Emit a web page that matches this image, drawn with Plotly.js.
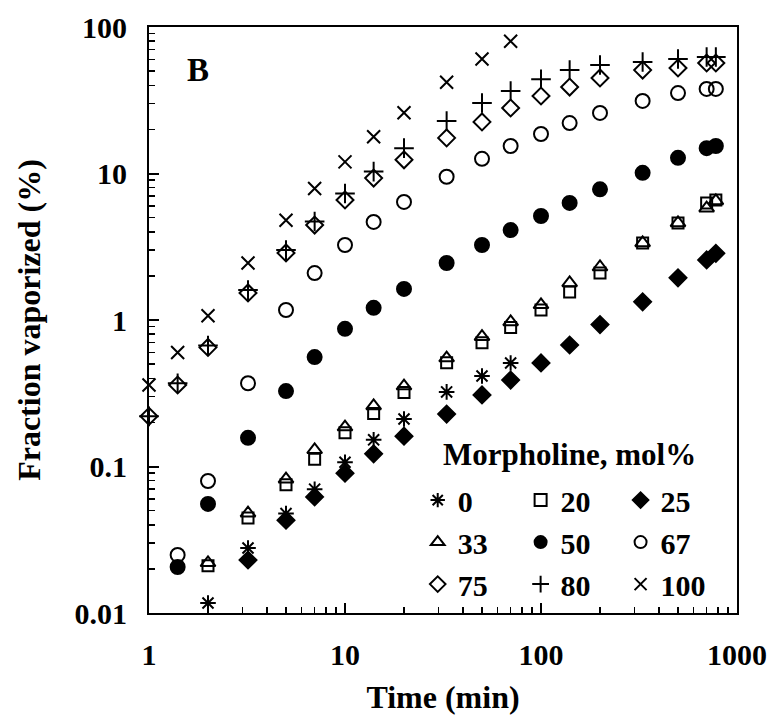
<!DOCTYPE html>
<html>
<head>
<meta charset="utf-8">
<script src="https://cdn.plot.ly/plotly-3.0.1.min.js"></script>
<style>html,body{margin:0;padding:0;background:#fff;}#chart{width:776px;height:715px;}</style>
</head>
<body>
<div id="chart"></div>
<script>
// Time (min)
const time = [1, 1.4, 2, 3.2, 5, 7, 10, 14, 20, 33, 50, 70, 100, 140, 200, 330, 500, 700, 780];
// Fraction vaporized (%) per morpholine mol%
const m0   = [null, null, 0.0117, 0.0278, 0.0477, 0.070, 0.107, 0.152, 0.211, 0.323, 0.415, 0.509, null, null, null, null, null, null, null];
const m20  = [null, null, 0.021, 0.0445, 0.075, 0.112, 0.17, 0.23, 0.32, 0.51, 0.70, 0.89, 1.17, 1.55, 2.09, 3.36, 4.6, 6.3, 6.6];
const m25  = [null, null, null, 0.023, 0.043, 0.062, 0.090, 0.122, 0.161, 0.228, 0.308, 0.389, 0.509, 0.675, 0.93, 1.33, 1.94, 2.57, 2.85];
const m33  = [null, null, 0.022, 0.048, 0.082, 0.13, 0.186, 0.259, 0.354, 0.55, 0.77, 0.97, 1.27, 1.79, 2.3, 3.36, 4.6, 5.8, 6.5];
const m50  = [null, 0.0206, 0.0555, 0.157, 0.327, 0.558, 0.87, 1.21, 1.63, 2.45, 3.25, 4.11, 5.13, 6.3, 7.8, 10.1, 12.8, 14.9, 15.4];
const m67  = [null, 0.0249, 0.0796, 0.37, 1.17, 2.09, 3.25, 4.67, 6.4, 9.5, 12.6, 15.4, 18.6, 22.1, 25.9, 31.3, 35.4, 37.8, 37.8];
const m75  = [0.22, 0.36, 0.65, 1.53, 2.87, 4.45, 6.6, 9.3, 12.4, 17.5, 22.5, 28, 33.8, 38.9, 44.9, 50.8, 52.5, 56.8, 56.8];
const m80  = [0.22, 0.37, 0.67, 1.6, 3.0, 4.7, 7.3, 10.3, 14.9, 22.8, 30.3, 36.6, 44, 50.8, 55, 57.7, 60.5, 62.4, 62.4];
const m100 = [0.36, 0.6, 1.07, 2.45, 4.8, 7.9, 12, 17.8, 26, 42, 60.5, 80, null, null, null, null, null, null, null];

const seriesNames = ['0', '20', '25', '33', '50', '67', '75', '80', '100'];
const seriesData = [m0, m20, m25, m33, m50, m67, m75, m80, m100];
const symbols = ['asterisk-open', 'square-open', 'diamond', 'triangle-up-open', 'circle', 'circle-open', 'diamond-open', 'cross-thin-open', 'x-thin-open'];
const sizes = [13, 11, 13, 13, 14, 14, 13, 14, 13];
const legendOf = ['legend', 'legend2', 'legend3', 'legend', 'legend2', 'legend3', 'legend', 'legend2', 'legend3'];

const xTickVals = [1, 10, 100, 1000];
const xTickText = ['1', '10', '100', '1000'];
const yTickVals = [0.01, 0.1, 1, 10, 100];
const yTickText = ['0.01', '0.1', '1', '10', '100'];

const FONT = 'Liberation Serif, Times New Roman, serif';

const order = [0, 3, 6, 1, 4, 7, 2, 5, 8];
const traces = order.map(i => ({
  type: 'scatter', mode: 'markers',
  x: time, y: seriesData[i], name: seriesNames[i],
  legend: legendOf[i],
  marker: {symbol: symbols[i], size: sizes[i], color: 'black', line: {color: 'black', width: 2}},
  cliponaxis: false
}));

const legendBase = {
  orientation: 'v', xanchor: 'left', yanchor: 'top', y: 0.237,
  bgcolor: 'rgba(0,0,0,0)', borderwidth: 0, itemsizing: 'constant',
  font: {family: FONT, size: 30, weight: 'bold', color: 'black'},
  tracegroupgap: 0, itemwidth: 30
};

const axisBase = {
  type: 'log', showline: true, mirror: true, linecolor: 'black', linewidth: 2,
  ticks: 'inside', ticklen: 10, tickwidth: 2, tickcolor: 'black',
  showgrid: false, zeroline: false,
  tickfont: {family: FONT, size: 30, weight: 'bold', color: 'black'},
  minor: {ticks: 'inside', ticklen: 6, tickwidth: 1.5, tickcolor: 'black', dtick: 'D1', showgrid: false}
};

const layout = {
  width: 776, height: 715,
  margin: {l: 149, r: 39, t: 27, b: 102},
  paper_bgcolor: 'white', plot_bgcolor: 'white',
  showlegend: true,
  xaxis: Object.assign({}, axisBase, {
    range: [0, 3], tickmode: 'array', tickvals: xTickVals, ticktext: xTickText,
    ticklabelstandoff: 14,
    title: {text: 'Time (min)', font: {family: FONT, size: 32, weight: 'bold', color: 'black'}, standoff: 18}
  }),
  yaxis: Object.assign({}, axisBase, {
    range: [-2, 2], tickmode: 'array', tickvals: yTickVals, ticktext: yTickText,
    ticklabelstandoff: 14,
    title: {text: 'Fraction vaporized (%)', font: {family: FONT, size: 32, weight: 'bold', color: 'black'}, standoff: 24}
  }),
  legend: Object.assign({}, legendBase, {x: 0.457}),
  legend2: Object.assign({}, legendBase, {x: 0.632}),
  legend3: Object.assign({}, legendBase, {x: 0.802}),
  annotations: [
    {text: 'Morpholine, mol%', xref: 'paper', yref: 'paper', x: 0.715, y: 0.27, xanchor: 'center', yanchor: 'middle', showarrow: false,
     font: {family: FONT, size: 31, weight: 'bold', color: 'black'}},
    {text: 'B', xref: 'paper', yref: 'paper', x: 0.083, y: 0.927, xanchor: 'center', yanchor: 'middle', showarrow: false,
     font: {family: FONT, size: 33, weight: 'bold', color: 'black'}}
  ]
};

Plotly.newPlot('chart', traces, layout, {displayModeBar: false, staticPlot: true});
</script>
</body>
</html>
